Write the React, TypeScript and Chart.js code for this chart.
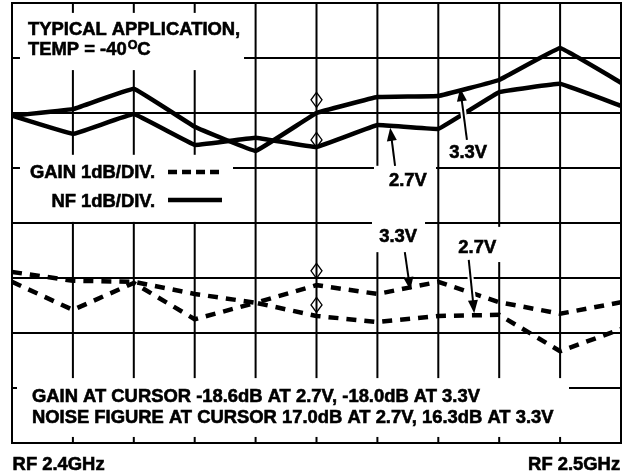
import React, { useEffect, useRef } from "react";
import { Chart, registerables } from "chart.js";
Chart.register(...registerables);

// Frequency axis (MHz), one point per grid division
const freqMHz = [2400, 2410, 2420, 2430, 2440, 2450, 2460, 2470, 2480, 2490, 2500];
// Noise figure traces (in divisions, 1 dB/div)
const nfUpper = [5.95, 6.07, 6.44, 5.75, 5.31, 6.0, 6.29, 6.31, 6.6, 7.18, 6.55];
const nfLower = [5.95, 5.62, 5.98, 5.42, 5.55, 5.38, 5.78, 5.71, 6.38, 6.53, 6.13];
// Gain traces (in divisions, 1 dB/div)
const gain33 = [3.11, 2.95, 2.93, 2.71, 2.55, 2.87, 2.71, 2.93, 2.56, 2.35, 2.56];
const gain27 = [2.93, 2.42, 2.91, 2.25, 2.55, 2.31, 2.2, 2.31, 2.33, 1.67, 2.07];
// Grid
const xGrid = freqMHz;
const yGrid = [0, 1, 2, 3, 4, 5, 6, 7, 8];
// Cursor markers
const cursorFreq = 2450;
const cursorMarks = [6.24, 5.51, 3.13, 2.51];

// Texts
const titleLines = ["TYPICAL APPLICATION,", "TEMP = -40", "O", "C"];
const legendGain = "GAIN 1dB/DIV.";
const legendNF = "NF 1dB/DIV.";
const cursorLines = [
  "GAIN AT CURSOR -18.6dB AT 2.7V, -18.0dB AT 3.3V",
  "NOISE FIGURE AT CURSOR 17.0dB AT 2.7V, 16.3dB AT 3.3V",
];
const startLabel = "RF 2.4GHz";
const stopLabel = "RF 2.5GHz";

// Arrow callouts: [label, labelX, labelY, tailX, tailY, tipX, tipY]
const callouts: [string, number, number, number, number, number, number][] = [
  ["2.7V", 2465.0, 4.67, 2462.9, 5.04, 2462.1, 5.73],
  ["3.3V", 2474.9, 5.18, 2474.7, 5.51, 2473.6, 6.45],
  ["3.3V", 2463.4, 3.65, 2464.5, 3.47, 2465.4, 2.78],
  ["2.7V", 2476.4, 3.45, 2475.0, 3.33, 2475.9, 2.36],
];

// White masks over grid: [x1, y1, x2, y2]
const masks = [
  [2401.31, 7.82, 2438.1, 6.78],
  [2401.31, 5.24, 2436.29, 4.02],
  [2400.82, 1.18, 2491.46, 0.11],
  [2459.44, 5.04, 2469.62, 4.02],
  [2459.11, 4.06, 2467.82, 3.47],
  [2472.74, 3.93, 2480.3, 3.29],
];

const FONT = "bold 18.4px 'Liberation Sans', Arial, sans-serif";

function heavyText(ctx: CanvasRenderingContext2D, s: string, x: number, y: number) {
  ctx.fillText(s, x, y);
  ctx.save();
  ctx.lineWidth = 0.6;
  ctx.strokeStyle = "#000";
  ctx.setLineDash([]);
  ctx.strokeText(s, x, y);
  ctx.restore();
}

const drawPlugin = {
  id: "scopeDecor",
  beforeDatasetsDraw(chart: any) {
    const { ctx, chartArea: a, scales } = chart;
    const X = (v: number) => scales.x.getPixelForValue(v);
    const Y = (v: number) => scales.y.getPixelForValue(v);
    ctx.save();
    ctx.fillStyle = "#fff";
    ctx.fillRect(0, 0, chart.width, chart.height);
    ctx.strokeStyle = "#000";
    ctx.lineWidth = 2;
    ctx.beginPath();
    xGrid.forEach((f) => {
      const x = X(f);
      ctx.moveTo(x, a.top);
      ctx.lineTo(x, a.bottom);
    });
    yGrid.forEach((d) => {
      const y = Y(d);
      ctx.moveTo(a.left, y);
      ctx.lineTo(a.right, y);
    });
    ctx.stroke();
    ctx.strokeRect(a.left, a.top, a.right - a.left, a.bottom - a.top);
    ctx.fillStyle = "#fff";
    masks.forEach(([x1, y1, x2, y2]) => {
      ctx.fillRect(X(x1), Y(y1), X(x2) - X(x1), Y(y2) - Y(y1));
    });
    ctx.restore();
  },
  afterDatasetsDraw(chart: any) {
    const { ctx, scales } = chart;
    const X = (v: number) => scales.x.getPixelForValue(v);
    const Y = (v: number) => scales.y.getPixelForValue(v);
    ctx.save();
    ctx.fillStyle = "#000";
    ctx.strokeStyle = "#000";
    ctx.font = FONT;
    ctx.textBaseline = "alphabetic";

    // Title
    ctx.textAlign = "left";
    heavyText(ctx, titleLines[0], X(2402.63), Y(7.41));
    const tx = X(2402.63);
    const ty = Y(7.055);
    heavyText(ctx, titleLines[1], tx, ty);
    const w1 = ctx.measureText(titleLines[1]).width;
    ctx.font = "bold 12.5px 'Liberation Sans', Arial, sans-serif";
    heavyText(ctx, titleLines[2], tx + w1 + 1, ty - 6);
    const w2 = ctx.measureText(titleLines[2]).width;
    ctx.font = FONT;
    heavyText(ctx, titleLines[3], tx + w1 + w2 + 1, ty);

    // Legend
    ctx.textAlign = "right";
    heavyText(ctx, legendGain, X(2423.48), Y(4.818));
    heavyText(ctx, legendNF, X(2423.48), Y(4.291));
    ctx.lineWidth = 4.5;
    ctx.setLineDash([9, 5]);
    ctx.beginPath();
    ctx.moveTo(X(2425.62), Y(4.927));
    ctx.lineTo(X(2434.48), Y(4.927));
    ctx.stroke();
    ctx.setLineDash([]);
    ctx.beginPath();
    ctx.moveTo(X(2425.62), Y(4.418));
    ctx.lineTo(X(2434.48), Y(4.418));
    ctx.stroke();

    // Cursor readouts
    ctx.textAlign = "left";
    heavyText(ctx, cursorLines[0], X(2403.28), Y(0.745));
    heavyText(ctx, cursorLines[1], X(2403.28), Y(0.364));
    // Start / stop
    heavyText(ctx, startLabel, X(2400.1), Y(-0.49));
    ctx.textAlign = "right";
    heavyText(ctx, stopLabel, X(2499.85), Y(-0.49));

    // Cursor diamonds
    ctx.lineWidth = 1.3;
    const cx = X(cursorFreq);
    cursorMarks.forEach((m) => {
      const cy = Y(m);
      ctx.beginPath();
      ctx.moveTo(cx, cy - 7.5);
      ctx.lineTo(cx + 5.5, cy);
      ctx.lineTo(cx, cy + 7.5);
      ctx.lineTo(cx - 5.5, cy);
      ctx.closePath();
      ctx.stroke();
    });

    // Callouts
    callouts.forEach(([lab, lx, ly, x1, y1, x2, y2]) => {
      const ax = X(x1), ay = Y(y1), bx = X(x2), by = Y(y2);
      const ang = Math.atan2(by - ay, bx - ax);
      const hl = 13, hw = 5;
      const sx = bx - Math.cos(ang) * hl, sy = by - Math.sin(ang) * hl;
      ctx.strokeStyle = "#fff";
      ctx.lineWidth = 6;
      ctx.beginPath();
      ctx.moveTo(ax, ay);
      ctx.lineTo(sx, sy);
      ctx.stroke();
      ctx.strokeStyle = "#000";
      ctx.lineWidth = 2;
      ctx.beginPath();
      ctx.moveTo(ax, ay);
      ctx.lineTo(sx + Math.cos(ang), sy + Math.sin(ang));
      ctx.stroke();
      ctx.beginPath();
      ctx.moveTo(bx, by);
      ctx.lineTo(sx + Math.sin(ang) * hw, sy - Math.cos(ang) * hw);
      ctx.lineTo(sx - Math.sin(ang) * hw, sy + Math.cos(ang) * hw);
      ctx.closePath();
      ctx.fill();
      ctx.textAlign = "center";
      heavyText(ctx, lab, X(lx), Y(ly));
    });
    ctx.restore();
  },
};

export default function App() {
  const ref = useRef<HTMLCanvasElement | null>(null);
  useEffect(() => {
    if (!ref.current) return;
    const mk = (vals: number[]) => freqMHz.map((x, i) => ({ x, y: vals[i] }));
    const solid = { borderColor: "#000", borderWidth: 4.5, pointRadius: 0, tension: 0.05, fill: false, borderJoinStyle: "round" as const, borderCapStyle: "round" as const };
    const dashed = { borderColor: "#000", borderWidth: 4.5, pointRadius: 0, tension: 0, fill: false, borderDash: [10, 8] };
    const chart = new Chart(ref.current, {
      type: "line",
      data: {
        datasets: [
          { label: "NF 3.3V", data: mk(nfUpper), ...solid },
          { label: "NF 2.7V", data: mk(nfLower), ...solid },
          { label: "Gain 3.3V", data: mk(gain33), ...dashed },
          { label: "Gain 2.7V", data: mk(gain27), ...dashed },
        ],
      },
      options: {
        animation: false,
        responsive: false,
        maintainAspectRatio: false,
        layout: { padding: { left: 12, top: 3, right: 14, bottom: 32 } },
        plugins: { legend: { display: false }, tooltip: { enabled: false } },
        scales: {
          x: { type: "linear", min: 2400, max: 2500, display: false },
          y: { type: "linear", min: 0, max: 8, display: false },
        },
      },
      plugins: [drawPlugin],
    });
    return () => chart.destroy();
  }, []);
  return (
    <div style={{ position: "absolute", left: 0, top: 0, width: 635, height: 475, background: "#fff" }}>
      <canvas ref={ref} width={635} height={475} style={{ display: "block" }} />
    </div>
  );
}
